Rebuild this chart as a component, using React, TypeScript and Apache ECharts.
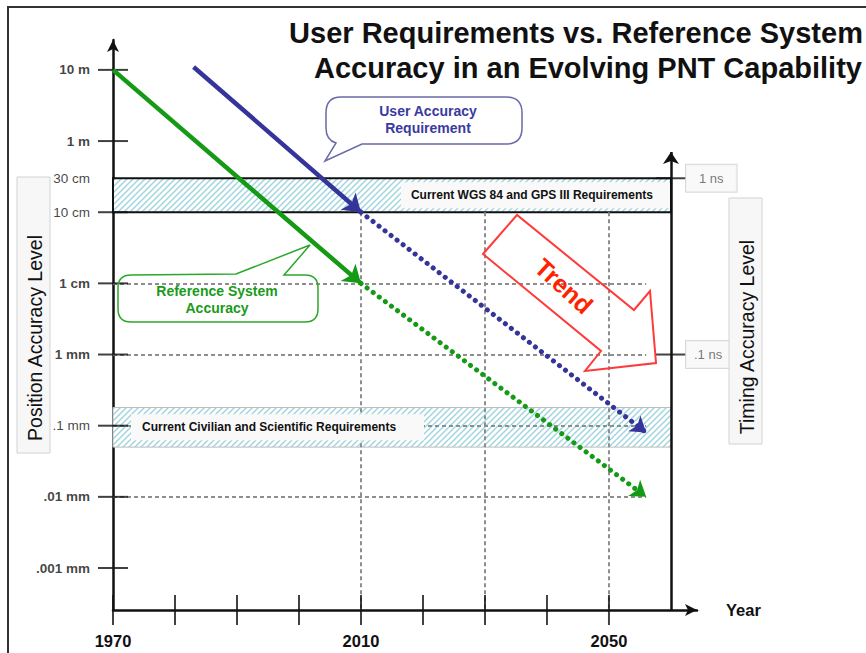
import React, { useEffect, useRef } from 'react';
import * as echarts from 'echarts';

const FONT = '"Liberation Sans", Arial, Helvetica, sans-serif';

// ---- Position accuracy axis (values in millimetres, log scale) ----
const positionTickLabels = ['10 m', '1 m', '30 cm', '10 cm', '1 cm', '1 mm', '.1 mm', '.01 mm', '.001 mm'];
const positionTickValues = [10000, 1000, 300, 100, 10, 1, 0.1, 0.01, 0.001];
const positionTicksWithoutMark = ['30 cm'];
const positionLightLabels = ['30 cm', '10 cm', '.1 mm'];

// ---- Timing accuracy axis (drawn at the same heights as position levels) ----
const timingTickLabels = ['1 ns', '.1 ns'];
const timingTickValues = [300, 1];

// ---- Year axis ----
const yearTicks = [1970, 1980, 1990, 2000, 2010, 2020, 2030, 2040, 2050];
const yearLabels = [1970, 2010, 2050];
const gridYears = [2010, 2030, 2050];
const gridLevels = [10, 1, 0.1, 0.01];

// ---- Trend lines: [year, accuracy in mm] ----
const referenceSolid = [[1970, 10000], [2010, 10]];
const referenceProjected = [[2010, 10], [2056, 0.01]];
const userSolid = [[1983, 11000], [2010, 100]];
const userProjected = [[2010, 100], [2056, 0.08]];

// ---- Requirement bands (mm) ----
const bandNames = ['Current WGS 84 and GPS III Requirements', 'Current Civilian and Scientific Requirements'];
const bandTop = [300, 0.18];
const bandBottom = [100, 0.05];

const X_MIN = 1970;
const X_MAX = 2064.2;
const TIMING_AXIS_YEAR = 2060;
const TIMING_AXIS_TOP = 700;
const GRID_LINE_END = 2056;
const Y_MIN = -3.59;
const Y_MAX = 4.42;

const GREEN = '#149a14';
const BLUE = '#34349a';

const USER_CALLOUT_PATH =
  'M 341 97 L 506 97 Q 522 97 522 113 L 522 128 Q 522 144 506 144 L 362 144 L 325 161 L 336 143 Q 326 140 326 128 L 326 113 Q 326 97 341 97 Z';
const REF_CALLOUT_PATH =
  'M 131 275 L 236 274 L 310 245 L 284 275 L 305 275 Q 318 275 318 288 L 318 309 Q 318 322 305 322 L 131 322 Q 118 322 118 309 L 118 288 Q 118 275 131 275 Z';

const lg = (v: number) => Math.log10(v);
const pt = (p: number[]) => [p[0], lg(p[1])];

function makeHatch() {
  const c = document.createElement('canvas');
  c.width = 6;
  c.height = 6;
  const g = c.getContext('2d')!;
  g.fillStyle = '#ffffff';
  g.fillRect(0, 0, 6, 6);
  g.strokeStyle = '#9dd4dd';
  g.lineWidth = 1.4;
  g.beginPath();
  g.moveTo(-1, 7);
  g.lineTo(7, -1);
  g.moveTo(-1, 1);
  g.lineTo(1, -1);
  g.moveTo(5, 7);
  g.lineTo(7, 5);
  g.stroke();
  return { image: c, repeat: 'repeat', imageWidth: 6, imageHeight: 6 };
}

function trendSeries(points: number[][], color: string, dotted: boolean, arrow: number[]) {
  return {
    type: 'lines',
    coordinateSystem: 'cartesian2d',
    z: 6,
    silent: true,
    symbol: ['none', 'arrow'],
    symbolSize: arrow,
    lineStyle: {
      color,
      width: dotted ? 5 : 4.5,
      type: dotted ? [0.1, 7.5] : 'solid',
      cap: dotted ? 'round' : 'butt',
      opacity: 1,
    },
    data: [{ coords: points.map(pt) }],
  };
}

const centered = { align: 'center', verticalAlign: 'middle', textAlign: 'center', textVerticalAlign: 'middle' };

function buildOption() {
  const hatch = makeHatch();
  const textBase = { fontFamily: FONT, color: '#111' };
  return {
    animation: false,
    backgroundColor: '#ffffff',
    grid: { left: 113, top: 40, width: 584, height: 570 },
    xAxis: {
      type: 'value',
      min: X_MIN,
      max: X_MAX,
      interval: 10,
      axisLine: {
        show: true,
        onZero: false,
        symbol: ['none', 'arrow'],
        symbolSize: [9, 12],
        lineStyle: { color: '#111', width: 2.5 },
      },
      axisTick: { show: false },
      splitLine: { show: false },
      axisLabel: {
        ...textBase,
        formatter: (v: number) => (yearLabels.includes(v) ? String(v) : ''),
        margin: 22,
        fontWeight: 'bold',
        fontSize: 16.5,
      },
      name: 'Year',
      nameLocation: 'end',
      nameGap: 29,
      nameTextStyle: { ...textBase, fontWeight: 'bold', fontSize: 16.5, padding: [4, 0, 0, 0] },
    },
    yAxis: {
      type: 'value',
      min: Y_MIN,
      max: Y_MAX,
      axisLine: {
        show: true,
        onZero: false,
        symbol: ['none', 'arrow'],
        symbolSize: [9, 12],
        lineStyle: { color: '#111', width: 2.5 },
      },
      axisTick: { show: false },
      axisLabel: { show: false },
      splitLine: { show: false },
    },
    series: [
      // requirement bands (hatched)
      {
        type: 'line',
        data: [],
        z: 1,
        silent: true,
        markArea: {
          z: 1,
          silent: true,
          label: { show: false },
          data: bandTop.map((t, i) => [
            {
              xAxis: X_MIN,
              yAxis: lg(t),
              itemStyle: {
                color: hatch,
                borderColor: i === 0 ? '#111' : '#bdbdbd',
                borderWidth: i === 0 ? 2 : 1,
              },
            },
            { xAxis: TIMING_AXIS_YEAR, yAxis: lg(bandBottom[i]) },
          ]),
        },
      },
      // dashed grid lines
      {
        type: 'line',
        data: [],
        z: 2,
        silent: true,
        markLine: {
          z: 2,
          silent: true,
          symbol: ['none', 'none'],
          label: { show: false },
          lineStyle: { color: '#8e8e8e', width: 2, type: [4, 3] },
          data: [
            ...gridLevels.map((v) => [{ coord: [X_MIN, lg(v)] }, { coord: [GRID_LINE_END, lg(v)] }]),
            ...gridYears.map((y) => [{ coord: [y, lg(100)] }, { coord: [y, Y_MIN] }]),
          ],
        },
      },
      // band labels
      {
        type: 'line',
        data: [],
        z: 3,
        silent: true,
        markArea: {
          z: 3,
          silent: true,
          itemStyle: { color: 'rgba(0,0,0,0)', borderWidth: 0 },
          data: bandTop.map((t, i) => [
            {
              name: bandNames[i],
              xAxis: X_MIN,
              yAxis: lg(t),
              label: {
                show: true,
                formatter: '{b}',
                position: i === 0 ? 'insideRight' : 'insideLeft',
                distance: i === 0 ? 1 : 18,
                ...textBase,
                fontSize: 12,
                fontWeight: 'bold',
                backgroundColor: '#f9f9f9',
                padding: i === 0 ? [7, 17, 7, 10] : [7, 28, 7, 11],
              },
            },
            { xAxis: TIMING_AXIS_YEAR, yAxis: lg(bandBottom[i]) },
          ]),
        },
      },
      // position axis ticks + labels
      {
        type: 'scatter',
        z: 4,
        clip: false,
        silent: true,
        symbol: 'rect',
        data: positionTickValues.map((v, i) => {
          const hidden = positionTicksWithoutMark.includes(positionTickLabels[i]);
          return {
            name: positionTickLabels[i],
            value: [X_MIN, lg(v)],
            symbolSize: [30, 2],
            itemStyle: { color: hidden ? 'rgba(0,0,0,0)' : '#111' },
            label: { fontWeight: positionLightLabels.includes(positionTickLabels[i]) ? 'normal' : 'bold' },
          };
        }),
        label: {
          show: true,
          position: 'left',
          distance: 8,
          formatter: '{b}',
          ...textBase,
          fontSize: 13.5,
        },
      },
      // year ticks
      {
        type: 'scatter',
        z: 4,
        clip: false,
        silent: true,
        symbol: 'rect',
        symbolSize: [2, 30],
        itemStyle: { color: '#111' },
        data: yearTicks.map((y) => [y, Y_MIN]),
      },
      // timing axis line
      {
        type: 'lines',
        coordinateSystem: 'cartesian2d',
        z: 4,
        silent: true,
        symbol: ['none', 'arrow'],
        symbolSize: [9, 12],
        lineStyle: { color: '#111', width: 2.5, opacity: 1 },
        data: [{ coords: [[TIMING_AXIS_YEAR, Y_MIN], [TIMING_AXIS_YEAR, lg(TIMING_AXIS_TOP)]] }],
      },
      // timing ticks + labels
      {
        type: 'scatter',
        z: 4,
        clip: false,
        silent: true,
        symbol: 'rect',
        symbolSize: [30, 2],
        itemStyle: { color: '#111' },
        data: timingTickValues.map((v, i) => ({
          name: timingTickLabels[i],
          value: [TIMING_AXIS_YEAR, lg(v)],
          label: { padding: i === 0 ? [7, 13] : [7, 8] },
        })),
        label: {
          show: true,
          position: 'right',
          distance: 0,
          formatter: '{b}',
          fontFamily: FONT,
          fontSize: 13,
          color: '#555',
          backgroundColor: '#f7f7f7',
          borderColor: '#cfcfcf',
          borderWidth: 1,
        },
      },
      trendSeries(referenceSolid, GREEN, false, [13, 17]),
      trendSeries(referenceProjected, GREEN, true, [12, 15]),
      trendSeries(userSolid, BLUE, false, [13, 17]),
      trendSeries(userProjected, BLUE, true, [12, 15]),
    ],
    graphic: [
      {
        type: 'polyline',
        z: 50,
        silent: true,
        shape: { points: [[8, 660], [8, 7], [870, 7]] },
        style: { stroke: '#333', lineWidth: 2, fill: 'none' },
      },
      {
        type: 'text',
        z: 50,
        x: 576,
        y: 33,
        style: {
          text: 'User Requirements vs. Reference System',
          fontFamily: FONT,
          fontSize: 29,
          fontWeight: 'bold',
          fill: '#111',
          ...centered,
        },
      },
      {
        type: 'text',
        z: 50,
        x: 588,
        y: 68,
        style: {
          text: 'Accuracy in an Evolving PNT Capability',
          fontFamily: FONT,
          fontSize: 29,
          fontWeight: 'bold',
          fill: '#111',
          ...centered,
        },
      },
      {
        type: 'rect',
        z: 50,
        shape: { x: 17, y: 177, width: 33, height: 276 },
        style: { fill: '#f7f7f7', stroke: '#d2d2d2', lineWidth: 1 },
      },
      {
        type: 'text',
        z: 51,
        x: 35,
        y: 338,
        rotation: Math.PI / 2,
        style: {
          text: 'Position Accuracy Level',
          fontFamily: FONT,
          fontSize: 19.5,
          fill: '#111',
          ...centered,
        },
      },
      {
        type: 'rect',
        z: 50,
        shape: { x: 729, y: 198, width: 33, height: 246 },
        style: { fill: '#f7f7f7', stroke: '#d2d2d2', lineWidth: 1 },
      },
      {
        type: 'text',
        z: 51,
        x: 747,
        y: 337,
        rotation: Math.PI / 2,
        style: {
          text: 'Timing Accuracy Level',
          fontFamily: FONT,
          fontSize: 19.5,
          fill: '#111',
          ...centered,
        },
      },
      {
        type: 'calloutUser',
        z: 52,
        x: 0,
        y: 0,
        style: { fill: '#ffffff', stroke: '#6a6aa8', lineWidth: 1.5 },
      },
      {
        type: 'text',
        z: 53,
        x: 428,
        y: 119.5,
        style: {
          text: 'User Accuracy\nRequirement',
          fontFamily: FONT,
          fontSize: 14,
          fontWeight: 'bold',
          lineHeight: 17,
          fill: '#3a3aa0',
          ...centered,
        },
      },
      {
        type: 'calloutReference',
        z: 52,
        x: 0,
        y: 0,
        style: { fill: 'none', stroke: '#2aa82a', lineWidth: 1.5 },
      },
      {
        type: 'text',
        z: 53,
        x: 217,
        y: 299.5,
        style: {
          text: 'Reference System\nAccuracy',
          fontFamily: FONT,
          fontSize: 14,
          fontWeight: 'bold',
          lineHeight: 17,
          fill: '#1a9a1a',
          ...centered,
        },
      },
      {
        type: 'polygon',
        z: 52,
        silent: true,
        shape: {
          points: [[517, 215], [483, 254], [601, 351], [585, 371], [656, 363], [650, 291], [634, 310]],
        },
        style: { fill: 'none', stroke: '#ff3a3a', lineWidth: 2 },
      },
      {
        type: 'text',
        z: 53,
        x: 564,
        y: 286,
        rotation: -0.74,
        style: {
          text: 'Trend',
          fontFamily: FONT,
          fontSize: 25,
          fontWeight: 'bold',
          fill: '#ff2200',
          ...centered,
        },
      },
    ],
  };
}

export default function App() {
  const ref = useRef<HTMLDivElement>(null);
  useEffect(() => {
    const el = ref.current;
    if (!el) return;
    echarts.graphic.registerShape('calloutUser', echarts.graphic.extendPath(USER_CALLOUT_PATH, {}));
    echarts.graphic.registerShape('calloutReference', echarts.graphic.extendPath(REF_CALLOUT_PATH, {}));
    const chart = echarts.init(el, null, { renderer: 'svg' });
    chart.setOption(buildOption() as any);
    return () => chart.dispose();
  }, []);
  return (
    <div
      ref={ref}
      style={{ position: 'fixed', left: 0, top: 0, width: 866, height: 653, background: '#fff' }}
    />
  );
}
